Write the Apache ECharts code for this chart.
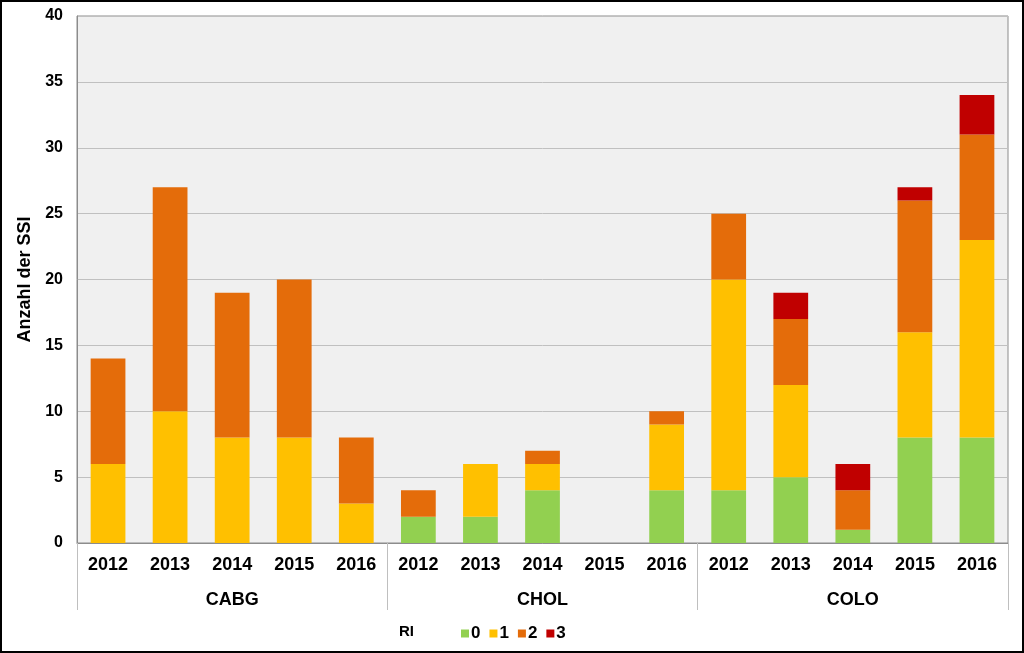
<!DOCTYPE html>
<html><head><meta charset="utf-8">
<script src="https://cdn.jsdelivr.net/npm/echarts@6/dist/echarts.min.js"></script>
<style>html,body{margin:0;padding:0;background:#fff}#c{width:1024px;height:653px}</style>
</head><body><div id="c"></div>
<script>
const years = ['2012','2013','2014','2015','2016','2012','2013','2014','2015','2016','2012','2013','2014','2015','2016'];
const groups = ['CABG','CHOL','COLO'];
const seriesNames = ['0','1','2','3'];
const ri0 = [0,0,0,0,0, 2,2,4,0,4, 4,5,1,8,8];
const ri1 = [6,10,8,8,3, 0,4,2,0,5, 16,7,0,8,15];
const ri2 = [8,17,11,12,5, 2,0,1,0,1, 5,5,3,10,8];
const ri3 = [0,0,0,0,0, 0,0,0,0,0, 0,2,2,1,3];
const colors = ['#92d050','#ffc000','#e46c0a','#c00000'];
const vals = [ri0,ri1,ri2,ri3];
const font = '"Liberation Sans", Arial, sans-serif';
const chart = echarts.init(document.getElementById('c'));
chart.setOption({
  animation:false,
  textStyle:{fontFamily:font},
  graphic:[{type:'rect',shape:{x:1,y:1,width:1022,height:651},style:{fill:'none',stroke:'#000',lineWidth:2},z:100}],
  title:{text:'RI',left:394,top:619,textStyle:{fontSize:15,fontWeight:'bold',color:'#000',fontFamily:font}},
  legend:{left:456,top:620,itemWidth:8,itemHeight:8,itemGap:9,icon:'rect',
    textStyle:{fontSize:17,fontWeight:'bold',color:'#000',fontFamily:font,padding:[0,0,0,-3]},
    data:seriesNames},
  grid:{left:77,top:16,right:16,bottom:110,show:true,backgroundColor:'#f0f0f0',borderColor:'#8c8c8c',borderWidth:1},
  xAxis:[
    {type:'category',data:years,position:'bottom',
     axisLine:{lineStyle:{color:'#8c8c8c'}},axisTick:{show:false},
     axisLabel:{fontSize:18,fontWeight:'bold',color:'#000',margin:13,interval:0}},
    {type:'category',data:groups,position:'bottom',
     axisLine:{show:false},
     axisTick:{show:true,length:67,alignWithLabel:false,lineStyle:{color:'#bfbfbf'}},
     axisLabel:{fontSize:18,fontWeight:'bold',color:'#000',margin:48}}
  ],
  yAxis:{type:'value',min:0,max:40,interval:5,
    name:'Anzahl der SSI',nameLocation:'middle',nameGap:35,
    nameTextStyle:{fontSize:18,fontWeight:'bold',color:'#000'},
    axisLine:{show:true,lineStyle:{color:'#8c8c8c'}},axisTick:{show:false},
    axisLabel:{fontSize:16,fontWeight:'bold',color:'#000',margin:14},
    splitLine:{lineStyle:{color:'#c0c0c0'}}},
  series: seriesNames.map((n,i)=>({name:n,type:'bar',stack:'s',xAxisIndex:0,data:vals[i],
    barWidth:'56%',itemStyle:{color:colors[i]}}))
});
</script></body></html>
